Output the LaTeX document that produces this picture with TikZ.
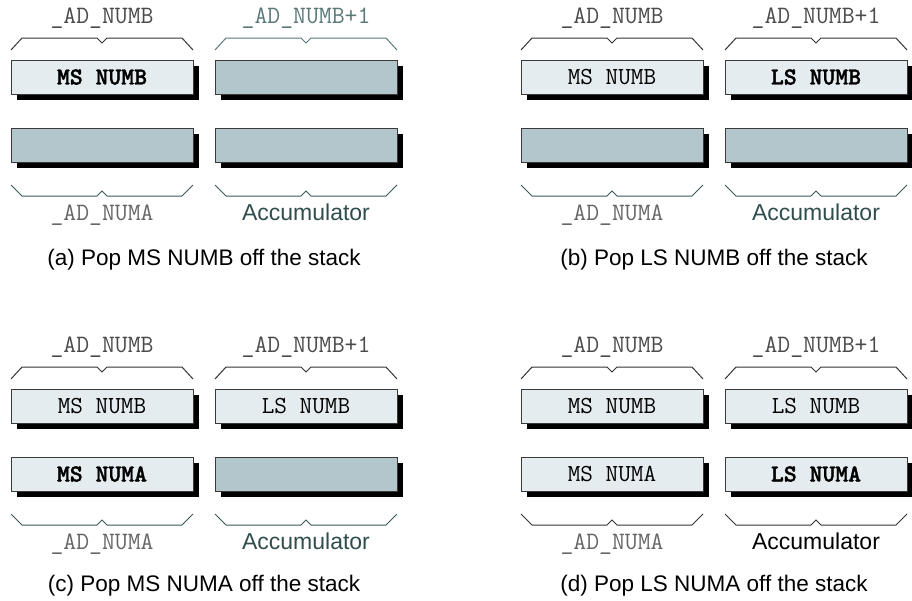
\documentclass[tikz,border=0pt]{standalone}
\usepackage{fontspec}
\setmainfont{Liberation Sans}
\newfontfamily\regboldfont{lmmonolt10-bold.otf}[FakeBold=1.5]
\usetikzlibrary{shadows}
\definecolor{regLine}{HTML}{3A3A3A}
\definecolor{regFull}{HTML}{E4ECEF}
\definecolor{regEmpty}{HTML}{B3C6CB}
\definecolor{addrGrey}{HTML}{4A4A4A}
\definecolor{braceGrey}{HTML}{333333}
\definecolor{numaGrey}{HTML}{666666}
\definecolor{accTeal}{HTML}{2F4D4D}
\definecolor{braceTeal}{HTML}{3A5858}
\definecolor{fadeTeal}{HTML}{5A7878}

\begin{document}
\begin{tikzpicture}[x=1pt, y=-1pt,
  reg/.style={draw=regLine, line width=0.9pt, minimum width=182pt, minimum height=34pt,
    inner sep=0pt, font=\fontsize{24.5}{24.5}\selectfont\ttfamily,
    drop shadow={shadow xshift=6pt, shadow yshift=-6pt, fill=black, opacity=1}},
  regfull/.style={reg, fill=regFull},
  regnew/.style={reg, fill=regFull, font=\fontsize{24.5}{24.5}\selectfont\regboldfont},
  regempty/.style={reg, fill=regEmpty},
  addr/.style={anchor=base, addrGrey, font=\fontsize{25}{25}\selectfont\ttfamily},
  numa/.style={addr, numaGrey},
  acc/.style={anchor=base, accTeal, font=\fontsize{23}{23}\selectfont},
  capt/.style={anchor=base, black, font=\fontsize{22.5}{22.5}\selectfont},
  tbrace/.pic={\draw[line width=1pt] (0,0) -- (11,-12) -- (86,-12) -- (91,-7) -- (96,-12) -- (171,-12) -- (182,0);},
  bbrace/.pic={\draw[line width=1pt] (0,0) -- (11,11) -- (86,11) -- (91,6) -- (96,11) -- (171,11) -- (182,0);}]
  \useasboundingbox (0,0) rectangle (912,600);
  % (a) MS NUMB
  \begin{scope}[shift={(0,0)}]
    \node[addr] (a-adb) at (102,23) {\_AD\_NUMB};
    \node[addr, fadeTeal] (a-adb1) at (306,23) {\_AD\_NUMB+1};
    \pic[braceGrey] at (11,50) {tbrace};
    \pic[fadeTeal] at (215,50) {tbrace};
    \node[regnew] (a-msb) at (102,77) {MS NUMB};
    \node[regempty] (a-lsb) at (306,77) {};
    \node[regempty] (a-msa) at (102,145) {};
    \node[regempty] (a-lsa) at (306,145) {};
    \pic[braceTeal] at (11,185) {bbrace};
    \pic[braceTeal] at (215,185) {bbrace};
    \node[numa] (a-ada) at (102,220) {\_AD\_NUMA};
    \node[acc] (a-acc) at (306,220) {Accumulator};
    \node[capt] (a-cap) at (204,265) {(a) Pop MS NUMB off the stack};
  \end{scope}
  % (b) LS NUMB
  \begin{scope}[shift={(510,0)}]
    \node[addr] (b-adb) at (102,23) {\_AD\_NUMB};
    \node[addr] (b-adb1) at (306,23) {\_AD\_NUMB+1};
    \pic[braceGrey] at (11,50) {tbrace};
    \pic[braceGrey] at (215,50) {tbrace};
    \node[regfull] (b-msb) at (102,77) {MS NUMB};
    \node[regnew] (b-lsb) at (306,77) {LS NUMB};
    \node[regempty] (b-msa) at (102,145) {};
    \node[regempty] (b-lsa) at (306,145) {};
    \pic[braceTeal] at (11,185) {bbrace};
    \pic[braceTeal] at (215,185) {bbrace};
    \node[numa] (b-ada) at (102,220) {\_AD\_NUMA};
    \node[acc] (b-acc) at (306,220) {Accumulator};
    \node[capt] (b-cap) at (204,265) {(b) Pop LS NUMB off the stack};
  \end{scope}
  % (c) MS NUMA
  \begin{scope}[shift={(0,329)}]
    \node[addr] (c-adb) at (102,23) {\_AD\_NUMB};
    \node[addr] (c-adb1) at (306,23) {\_AD\_NUMB+1};
    \pic[braceGrey] at (11,50) {tbrace};
    \pic[braceGrey] at (215,50) {tbrace};
    \node[regfull] (c-msb) at (102,77) {MS NUMB};
    \node[regfull] (c-lsb) at (306,77) {LS NUMB};
    \node[regnew] (c-msa) at (102,145) {MS NUMA};
    \node[regempty] (c-lsa) at (306,145) {};
    \pic[braceTeal] at (11,185) {bbrace};
    \pic[braceTeal] at (215,185) {bbrace};
    \node[numa] (c-ada) at (102,220) {\_AD\_NUMA};
    \node[acc] (c-acc) at (306,220) {Accumulator};
    \node[capt] (c-cap) at (204,262) {(c) Pop MS NUMA off the stack};
  \end{scope}
  % (d) LS NUMA
  \begin{scope}[shift={(510,329)}]
    \node[addr] (d-adb) at (102,23) {\_AD\_NUMB};
    \node[addr] (d-adb1) at (306,23) {\_AD\_NUMB+1};
    \pic[braceGrey] at (11,50) {tbrace};
    \pic[braceGrey] at (215,50) {tbrace};
    \node[regfull] (d-msb) at (102,77) {MS NUMB};
    \node[regfull] (d-lsb) at (306,77) {LS NUMB};
    \node[regfull] (d-msa) at (102,145) {MS NUMA};
    \node[regnew] (d-lsa) at (306,145) {LS NUMA};
    \pic[braceGrey] at (11,185) {bbrace};
    \pic[braceGrey] at (215,185) {bbrace};
    \node[numa] (d-ada) at (102,220) {\_AD\_NUMA};
    \node[acc, black] (d-acc) at (306,220) {Accumulator};
    \node[capt] (d-cap) at (204,262) {(d) Pop LS NUMA off the stack};
  \end{scope}
\end{tikzpicture}
\end{document}
